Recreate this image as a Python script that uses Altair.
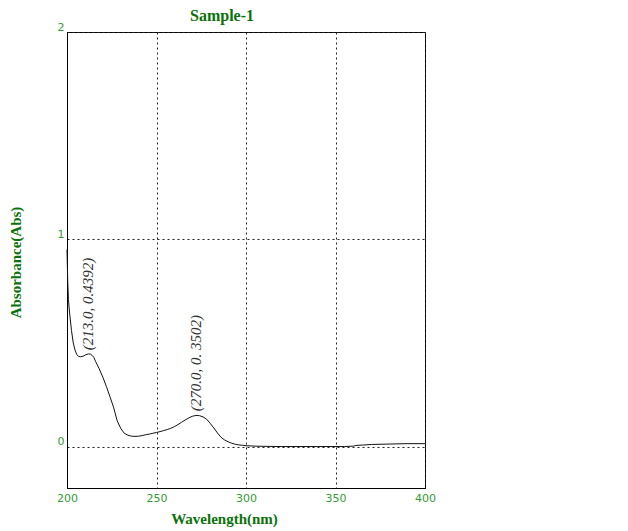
import pandas as pd
import altair as alt

# Spectrum
wavelength = [200, 200.4, 200.8, 201.5, 202.5, 203.5, 204.5, 205.5, 206.5, 207.5,
              209, 210.5, 212, 213, 214, 215, 216, 218, 220, 222,
              224, 226, 228, 230, 232, 234, 236, 238, 240, 242,
              244, 246, 248, 250, 252, 254, 256, 258, 260, 262,
              264, 266, 268, 270, 272, 274, 276, 278, 280, 282,
              284, 286, 288, 290, 292, 294, 296, 298, 300, 305,
              310, 320, 340, 355, 360, 362, 365, 370, 380, 390, 400]
absorbance = [0.95, 0.80, 0.71, 0.64, 0.56, 0.50, 0.465, 0.443, 0.435, 0.433,
              0.436, 0.443, 0.447, 0.446, 0.44, 0.43, 0.41, 0.375, 0.335, 0.29,
              0.24, 0.19, 0.125, 0.088, 0.064, 0.055, 0.05, 0.049, 0.05, 0.053,
              0.057, 0.06, 0.064, 0.068, 0.072, 0.077, 0.082, 0.088, 0.096, 0.106,
              0.117, 0.128, 0.138, 0.146, 0.150, 0.149, 0.143, 0.132, 0.112, 0.09,
              0.066, 0.045, 0.032, 0.023, 0.016, 0.011, 0.008, 0.006, 0.004, 0.002,
              0.001, 0.0, 0.0, 0.0, 0.002, 0.006, 0.007, 0.010, 0.012, 0.014, 0.014]

# Peak labels
peak_x = [213.0, 270.0]
peak_y = [0.44, 0.146]
peak_text = ["(213.0, 0.4392)", "(270.0, 0. 3502)"]

x_ticks = [200, 250, 300, 350, 400]
y_ticks = [0, 1, 2]

LABEL_GREEN = "#359a35"
TITLE_GREEN = "#0b720b"

spec_df = pd.DataFrame({"wl": wavelength, "abs": absorbance})
peaks_df = pd.DataFrame({"wl": peak_x, "abs": peak_y, "label": peak_text})

x_enc = alt.X("wl:Q", scale=alt.Scale(domain=[200, 400], nice=False, zero=False),
              axis=alt.Axis(values=x_ticks, title="Wavelength(nm)", format="d",
                            titleX=157, titleY=30, titleAlign="center",
                            titleBaseline="middle", labelPadding=4,
                            labelFlush=False))
y_enc = alt.Y("abs:Q", scale=alt.Scale(domain=[-0.2, 2], nice=False, zero=False),
              axis=alt.Axis(values=y_ticks, title="Absorbance(Abs)", format="d",
                            titleX=-52, titleY=230, titleAlign="center",
                            titleBaseline="middle", titleAngle=270,
                            labelBaseline="bottom", labelPadding=3,
                            labelFlush=False))

line = alt.Chart(spec_df).mark_line(color="#111111", strokeWidth=1).encode(
    x=x_enc, y=y_enc
)

lbl1 = alt.Chart(peaks_df.iloc[[0]]).mark_text(
    angle=270, align="left", baseline="alphabetic", dx=5, dy=3,
    font="Liberation Serif", fontStyle="italic", fontSize=15, color="#333333"
).encode(x="wl:Q", y="abs:Q", text="label:N")

lbl2 = alt.Chart(peaks_df.iloc[[1]]).mark_text(
    angle=270, align="left", baseline="alphabetic", dx=5, dy=9,
    font="Liberation Serif", fontStyle="italic", fontSize=15, color="#333333"
).encode(x="wl:Q", y="abs:Q", text="label:N")

chart = alt.layer(line, lbl1, lbl2).properties(
    width=358, height=456,
    autosize=alt.AutoSizeParams(type="none"),
    padding={"left": 59, "top": 24, "right": 190, "bottom": 40},
    background="#ffffff",
    title=alt.TitleParams("Sample-1", anchor="middle", dx=-24, dy=7, offset=4,
                          font="Liberation Serif", fontSize=16, fontWeight="bold",
                          color=TITLE_GREEN),
).configure_view(
    stroke="#000000", strokeWidth=1
).configure_axis(
    domainColor="#000000", domainWidth=1, ticks=False,
    grid=True, gridColor="#222222", gridDash=[2, 3], gridWidth=1,
    labelColor=LABEL_GREEN, labelFont="DejaVu Sans", labelFontSize=11,
    titleColor=TITLE_GREEN, titleFont="Liberation Serif", titleFontSize=15,
    titleFontWeight="bold"
)

chart.save("out.html", embed_options={"renderer": "svg", "actions": False})
